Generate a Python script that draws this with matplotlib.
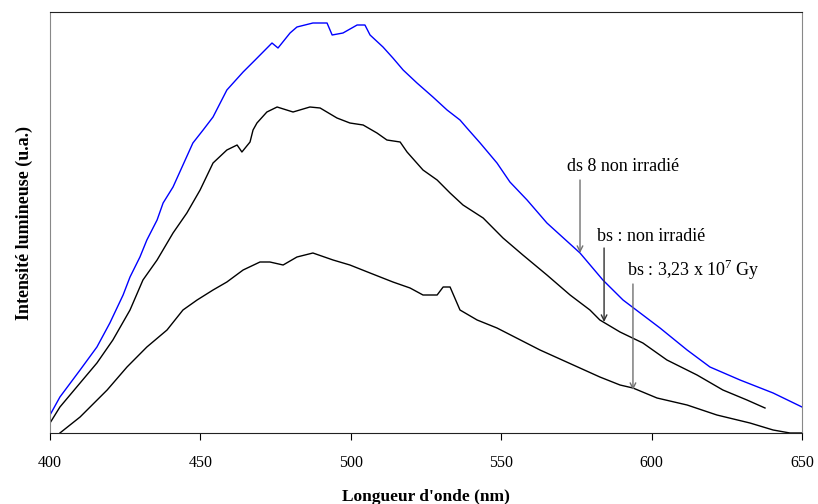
import matplotlib
matplotlib.use("Agg")
import matplotlib.pyplot as plt

plt.rcParams['font.family'] = ['Liberation Serif', 'DejaVu Serif']
plt.rcParams['mathtext.fontset'] = 'custom'
plt.rcParams['mathtext.rm'] = 'Liberation Serif'

# ds 8 non irradié (blue)
wl_ds8 = [400.0, 403.3, 410.0, 415.6, 419.9, 424.3, 426.6, 429.9, 432.2, 435.6,
          437.6, 440.9, 444.2, 447.5, 450.9, 454.2, 458.8, 464.2, 468.2, 473.8,
          475.8, 479.8, 482.1, 487.4, 492.1, 493.8, 497.4, 502.1, 504.7, 506.4,
          510.7, 514.0, 517.4, 522.0, 527.3, 532.0, 536.3, 538.6, 543.0, 548.6,
          552.9, 558.6, 565.2, 576.2, 583.8, 590.5, 602.8, 611.8, 619.4, 629.4,
          640.4, 650.0]
int_ds8 = [18, 36, 63, 86, 110, 138, 156, 176, 193, 213,
           230, 246, 268, 290, 303, 316, 343, 361, 373, 390,
           385, 400, 406, 410, 410, 398, 400, 408, 408, 398,
           386, 375, 363, 350, 336, 323, 313, 305, 290, 270,
           251, 233, 210, 180, 153, 133, 105, 83, 66, 53,
           40, 26]

# bs : non irradié
wl_bs = [400.0, 403.3, 410.0, 415.6, 420.9, 426.6, 430.9, 435.6, 440.9, 445.5,
         449.9, 454.2, 458.8, 462.2, 463.8, 466.5, 467.5, 468.8, 472.1, 475.5,
         480.8, 486.4, 489.8, 495.4, 499.7, 504.1, 508.7, 512.0, 516.4, 518.7,
         524.0, 528.7, 533.0, 537.3, 544.0, 550.6, 557.2, 565.2, 572.9, 579.5,
         582.8, 589.5, 597.1, 605.1, 615.1, 623.7, 631.7, 637.7]
int_bs = [10, 26, 50, 70, 93, 123, 153, 173, 200, 220,
          243, 270, 283, 288, 281, 291, 303, 310, 321, 326,
          321, 326, 325, 315, 310, 308, 300, 293, 291, 281,
          263, 253, 240, 228, 215, 195, 178, 158, 138, 123,
          113, 101, 90, 73, 58, 43, 33, 25]

# bs : 3,23 x 10^7 Gy
wl_irr = [403.3, 410.0, 419.0, 425.6, 432.2, 438.9, 444.2, 448.9, 454.2, 458.8,
          464.2, 469.8, 473.1, 477.5, 482.1, 487.4, 494.1, 499.7, 506.4, 514.0,
          519.7, 524.0, 528.7, 530.7, 533.0, 536.3, 542.0, 548.6, 562.9, 582.8,
          589.5, 593.8, 601.8, 611.8, 621.7, 632.7, 640.4, 646.0, 650.0]
int_irr = [0, 16, 43, 66, 86, 103, 123, 133, 143, 151,
           163, 171, 171, 168, 176, 180, 173, 168, 160, 151,
           145, 138, 138, 146, 146, 123, 113, 105, 83, 56,
           48, 45, 35, 28, 18, 10, 3, 0, 0]

# labels: text position, arrow x, arrow tail y, arrow head y
labels = ['ds 8 non irradié', 'bs : non irradié', 'bs : 3,23 x 10$^{7}$ Gy']
label_xy = [(590.6, 266), (599.8, 196), (613.8, 163)]
arrow_x = [576.2, 584.2, 593.8]
arrow_from = [253, 185, 149]
arrow_to = [180, 111, 43]
arrow_col = ['#707070', '#303030', '#707070']

fig = plt.figure(figsize=(8.18, 5.04), dpi=100)
ax = fig.add_axes([50 / 818, 71 / 504, 752 / 818, 421 / 504])

ax.plot(wl_ds8, int_ds8, color='#0000ff', lw=1.0)
ax.plot(wl_bs, int_bs, color='black', lw=1.0)
ax.plot(wl_irr, int_irr, color='black', lw=1.0)

ax.set_xlim(400, 650)
ax.set_ylim(0, 421)
ax.set_xticks([400, 450, 500, 550, 600, 650])
ax.set_yticks([])
ax.tick_params(axis='x', direction='out', length=5, width=0.8, pad=11, labelsize=11.5)

ax.spines['left'].set_color('#888888')
ax.spines['right'].set_color('#888888')
ax.spines['top'].set_color('#222222')
ax.spines['bottom'].set_color('#222222')

ax.set_xlabel("Longueur d'onde (nm)", fontsize=12.5, fontweight='bold', labelpad=13)
ax.set_ylabel("Intensité lumineuse (u.a.)", fontsize=13, fontweight='bold', labelpad=12)

for txt, (tx, ty), x, y0, y1, c in zip(labels, label_xy, arrow_x, arrow_from, arrow_to, arrow_col):
    ax.text(tx, ty, txt, ha='center', va='center', fontsize=13)
    ax.annotate('', xy=(x, y1), xytext=(x, y0),
                arrowprops=dict(arrowstyle='->', color=c, lw=1.0, shrinkA=0, shrinkB=0))

fig.savefig('out.png', dpi=100)
